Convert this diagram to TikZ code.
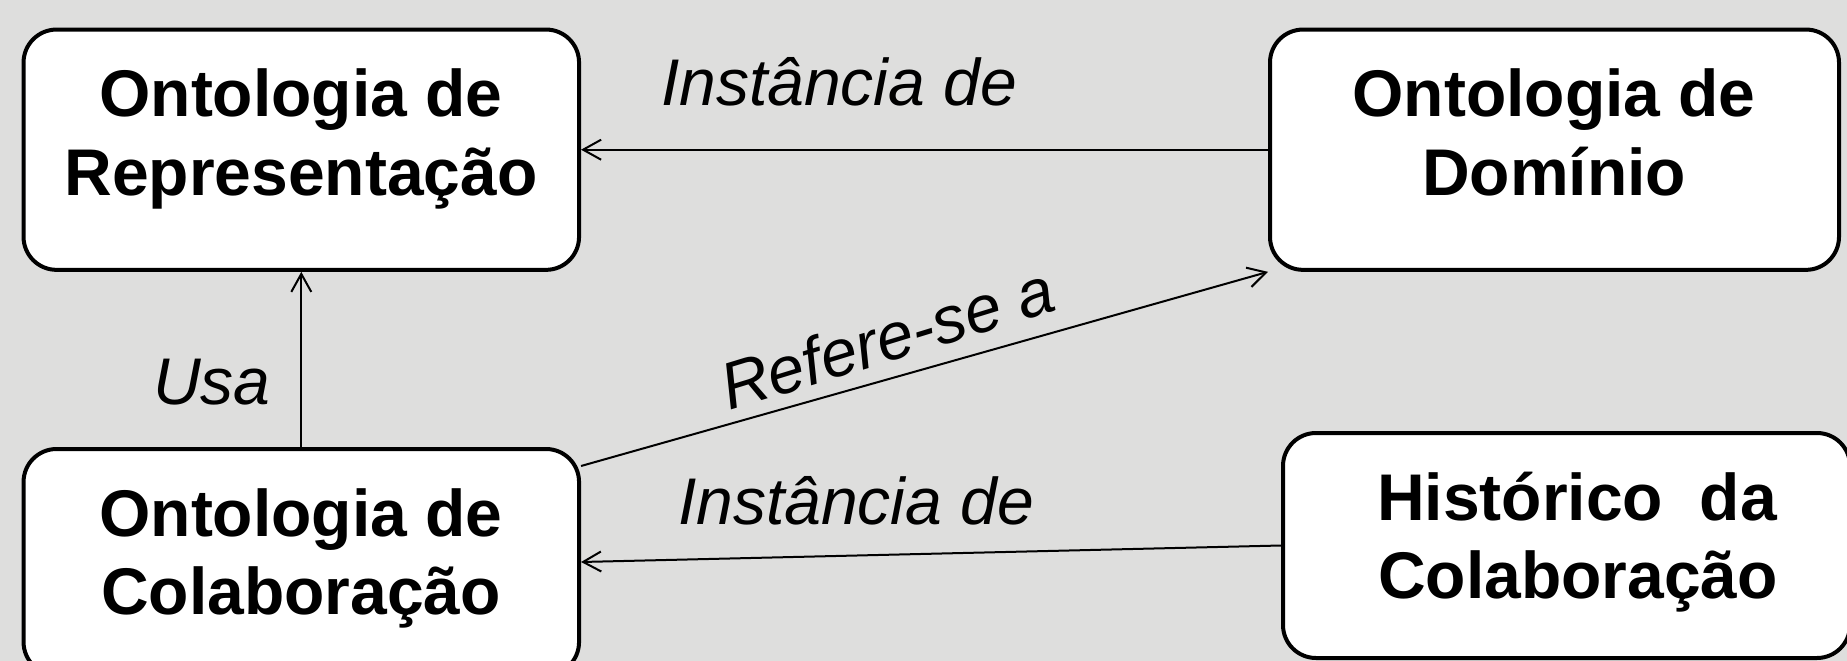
\documentclass[tikz,border=0pt]{standalone}
\usepackage{fontspec}
\setmainfont{Liberation Sans}
\usetikzlibrary{arrows.meta,calc}
\definecolor{bg}{RGB}{222,222,221}
\begin{document}
\begin{tikzpicture}[x=1pt,y=-1pt,
  box/.style={draw=black, line width=4pt, fill=white, rounded corners=33pt, inner sep=0pt},
  boxtext/.style={font=\fontsize{66}{79}\selectfont\bfseries, anchor=base, inner sep=0pt},
  lbl/.style={font=\fontsize{66}{79}\selectfont\itshape, anchor=base, inner sep=0pt},
  conn/.style={draw=black, line width=2pt, -{Straight Barb[length=18pt,width=20pt]}}]
\useasboundingbox (0,0) rectangle (1847,661);
\fill[bg] (0,0) rectangle (1847,661);
\clip (0,0) rectangle (1847,661);
% boxes
\node[box, minimum width=555.5pt, minimum height=240.3pt] (rep) at (301.3,149.7) {};
\node[box, minimum width=569pt, minimum height=240.3pt] (dom) at (1554.5,149.7) {};
\node[box, minimum width=555.5pt, minimum height=226pt] (colab) at (301.3,562) {};
\node[box, minimum width=567pt, minimum height=225pt] (hist) at (1566.5,545.5) {};
% box texts
\node[boxtext] (repA) at (301,116) {Ontologia de};
\node[boxtext] (repB) at (301,195) {Representação};
\node[boxtext] (domA) at (1554,116) {Ontologia de};
\node[boxtext] (domB) at (1554,195) {Domínio};
\node[boxtext] (colA) at (301,536) {Ontologia de};
\node[boxtext] (colB) at (301,614) {Colaboração};
\node[boxtext] (hisA) at (1577,520) {Histórico\ \ da};
\node[boxtext] (hisB) at (1578,598) {Colaboração};
% connectors
\draw[conn] (dom.west) -- (rep.east);
\draw[conn] (colab.north) -- (rep.south);
\draw[conn] ([yshift=-19pt]colab.north east) -- (dom.south west);
\draw[conn] (hist.west) -- (colab.east);
% labels
\node[lbl] (l1) at (839,106) {Instância de};
\node[lbl] (l2) at (212,404) {Usa};
\node[lbl, anchor=center, rotate=17] (l3) at (887,338) {Refere-se a};
\node[lbl] (l4) at (856,524) {Instância de};
\end{tikzpicture}
\end{document}
